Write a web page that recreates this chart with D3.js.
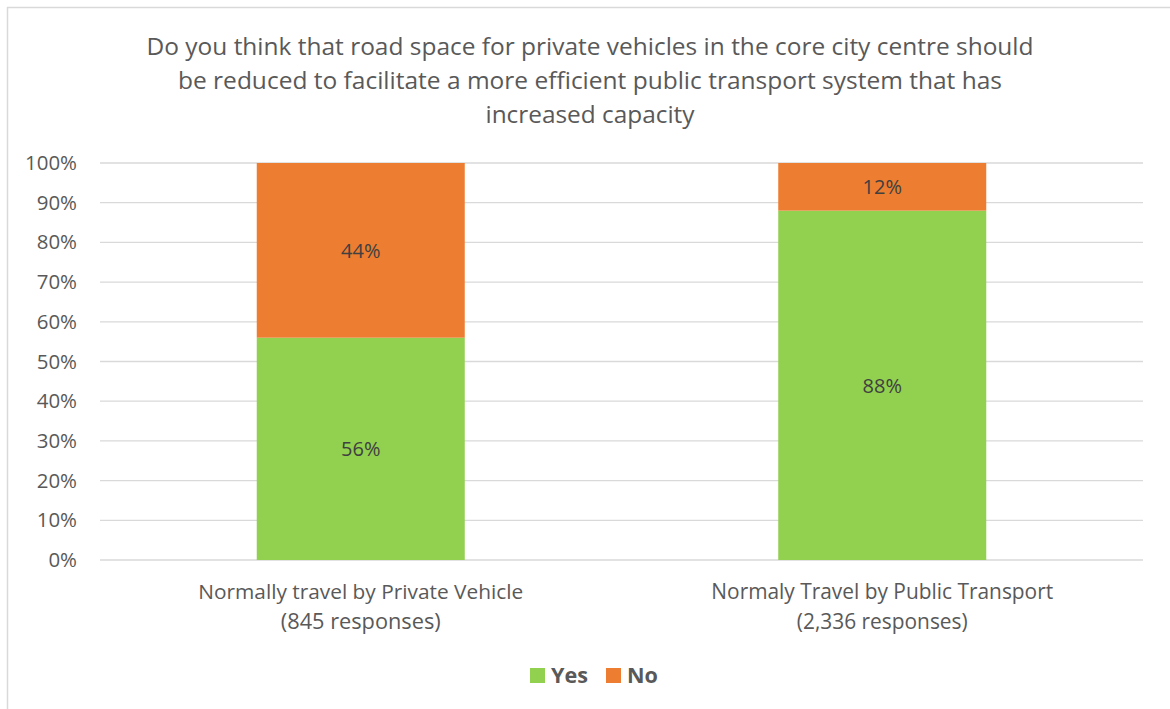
<!DOCTYPE html>
<html><head><meta charset="utf-8">
<script src="https://cdn.jsdelivr.net/npm/d3@7/dist/d3.min.js"></script>
<style>body{margin:0;background:#fff}svg{display:block}</style>
</head><body>
<svg id="c" width="1170" height="709"></svg>
<script>
const categories = ["Normally travel by Private Vehicle|(845 responses)", "Normaly Travel by Public Transport|(2,336 responses)"];
const yesValues = [0.56, 0.88];
const noValues = [0.44, 0.12];
const seriesNames = ["Yes", "No"];
const seriesColors = ["#92d050", "#ed7d31"];
const yTicks = [0,0.1,0.2,0.3,0.4,0.5,0.6,0.7,0.8,0.9,1.0];
const titleLines = ["Do you think that road space for private vehicles in the core city centre should",
  "be reduced to facilitate a more efficient public transport system that has",
  "increased capacity"];

const svg = d3.select("#c");
const font = "'Open Sans', 'Noto Sans', sans-serif";
function fit(sel, target) {
  let fsOut = null;
  sel.each(function(){
    const w = this.getComputedTextLength();
    const fs = parseFloat(this.getAttribute("font-size"));
    fsOut = fs*target/w;
    this.setAttribute("font-size", fsOut.toFixed(2));
  });
  return fsOut;
}

svg.append("rect").attr("x",7.5).attr("y",7.5).attr("width",1180).attr("height",720)
  .attr("fill","#fff").attr("stroke","#d9d9d9").attr("stroke-width",1.5);

const titleW = [887, 824, 209];
const titleY = [55, 89, 123];
svg.selectAll("text.title").data(titleLines).join("text")
  .attr("class","title").attr("x",590).attr("y",(d,i)=>titleY[i])
  .attr("text-anchor","middle").attr("font-family",font).attr("font-size",23)
  .attr("fill","#595959").attr("textLength",(d,i)=>titleW[i]).attr("lengthAdjust","spacingAndGlyphs")
  .text(d=>d);

const x = d3.scaleBand().domain(categories).range([100,1143]).paddingInner(0.6).paddingOuter(0.3);
const y = d3.scaleLinear().domain([0,1]).range([560,163]);

const g = svg.append("g");
g.selectAll("line.grid").data(yTicks).join("line").attr("class","grid")
  .attr("x1",100).attr("x2",1143).attr("y1",d=>y(d)).attr("y2",d=>y(d))
  .attr("stroke","#d9d9d9").attr("stroke-width",1.3);

const yAxis = g.append("g").attr("transform","translate(100,0)")
  .call(d3.axisLeft(y).tickValues(yTicks).tickFormat(d3.format(".0%")).tickSize(0).tickPadding(23));
yAxis.select(".domain").remove();
yAxis.selectAll("text").attr("font-family",font).attr("font-size",19).attr("fill","#595959");
const t100 = yAxis.selectAll("text").filter(d=>d===1).node();
const ratioY = 52 / t100.getComputedTextLength();
yAxis.selectAll("text").attr("font-size",(19*ratioY).toFixed(2));

const stackData = categories.map((c,i)=>({cat:c, Yes:yesValues[i], No:noValues[i]}));
const stack = d3.stack().keys(seriesNames)(stackData);
const bw = 208;
stack.forEach((s,si)=>{
  g.selectAll(null).data(s).join("rect")
    .attr("x",d=>x(d.data.cat)+x.bandwidth()/2-bw/2).attr("width",bw)
    .attr("y",d=>y(d[1])).attr("height",d=>y(d[0])-y(d[1]))
    .attr("fill",seriesColors[si]);
  g.selectAll(null).data(s).join("text")
    .attr("x",d=>x(d.data.cat)+x.bandwidth()/2).attr("y",d=>(y(d[0])+y(d[1]))/2+7.5)
    .attr("text-anchor","middle").attr("font-family",font).attr("font-size",20).attr("fill","#404040")
    .text(d=>d3.format(".0%")(d[1]-d[0]));
});

const catW = [[325,160],[342,171]];
categories.forEach((c,i)=>{
  const parts = c.split("|");
  parts.forEach((p,j)=>{
    const t = g.append("text").attr("x",x(c)+x.bandwidth()/2).attr("y",599+j*30)
      .attr("text-anchor","middle").attr("font-family",font).attr("font-size",19).attr("fill","#595959")
      .text(p);
    fit(t, catW[i][j]);
  });
});

const leg = svg.append("g");
const legX = [530, 606];
let legFs = 20;
seriesNames.forEach((n,i)=>{
  leg.append("rect").attr("x",legX[i]).attr("y",668).attr("width",15).attr("height",15).attr("fill",seriesColors[i]);
  const t = leg.append("text").attr("x",legX[i]+21).attr("y",683).attr("font-family",font).attr("font-weight","bold")
    .attr("font-size",legFs).attr("fill","#595959").text(n);
  if (i===0) legFs = fit(t, 37);
});
</script>
</body></html>
